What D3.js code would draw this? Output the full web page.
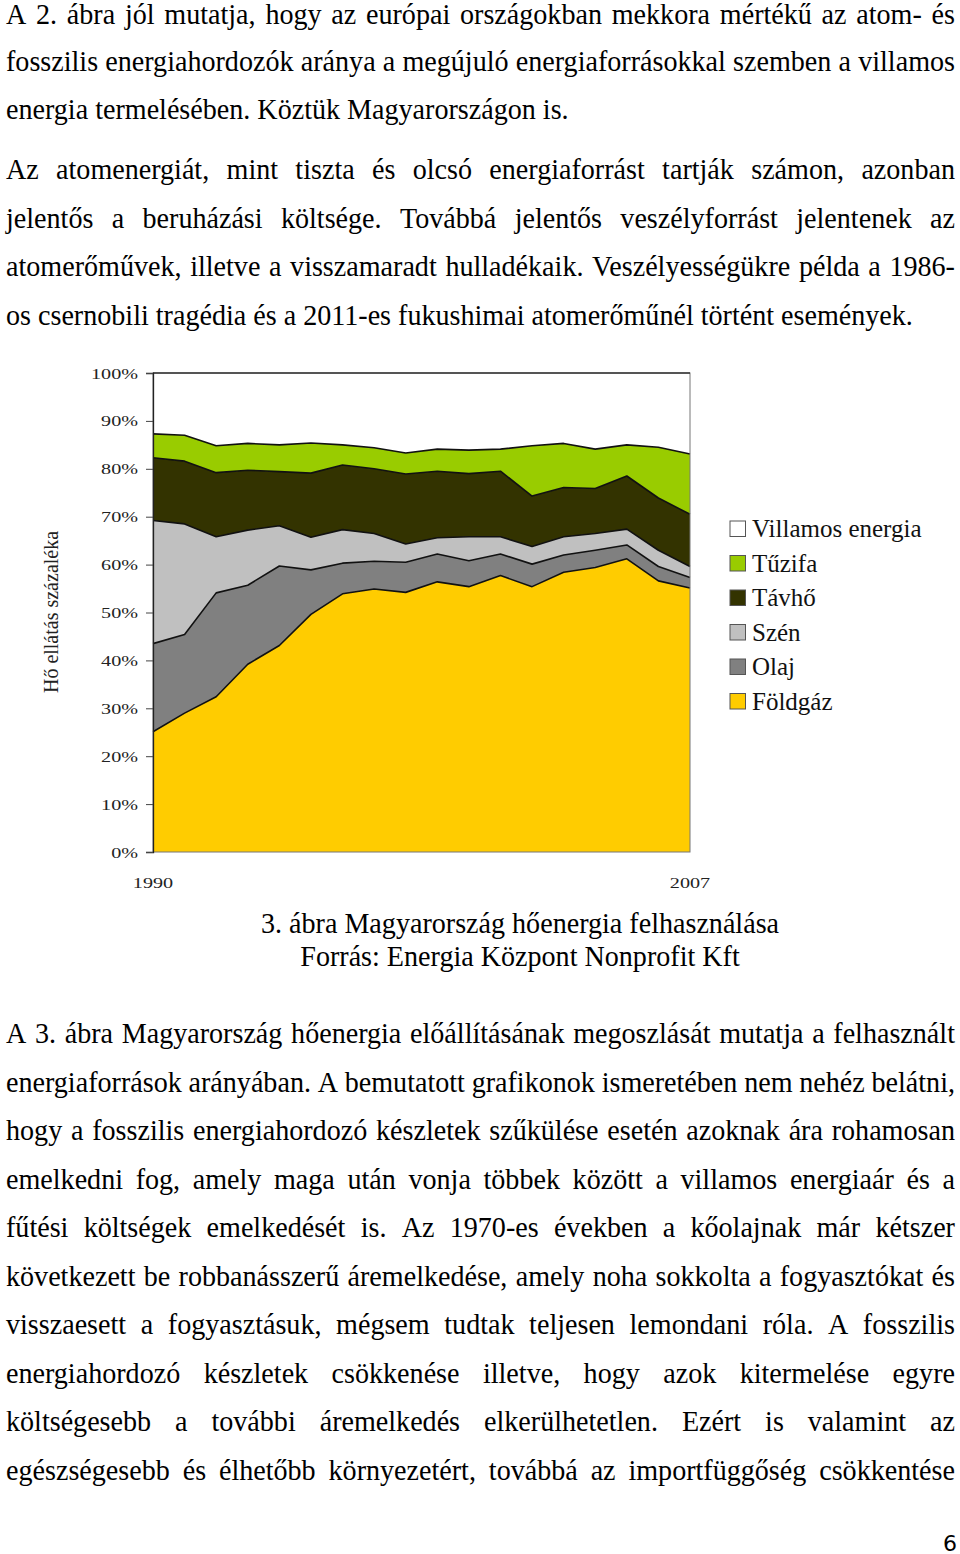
<!DOCTYPE html>
<html><head><meta charset="utf-8">
<script src="https://cdn.jsdelivr.net/npm/d3@7"></script>
<style>body{margin:0;background:#fff}svg{display:block}</style>
</head><body>
<svg id="page" width="960" height="1554"></svg>
<script>
// ---- chart data (percent shares of heat supply) ----
const years = [1990,1991,1992,1993,1994,1995,1996,1997,1998,1999,2000,2001,2002,2003,2004,2005,2006,2007];
const foldgaz  = [25.1,29.0,32.4,39.2,43.1,49.6,53.9,54.9,54.2,56.4,55.4,57.7,55.4,58.4,59.4,61.2,56.6,55.1];
const olaj     = [18.4,16.4,21.7,16.5,16.6, 9.3, 6.4, 5.8, 6.3, 5.8, 5.4, 4.5, 4.7, 3.6, 3.6, 2.9, 3.0, 2.2];
const szen     = [25.7,23.1,11.7,11.5, 8.4, 6.8, 7.0, 5.8, 3.8, 3.4, 5.0, 3.6, 3.7, 3.8, 3.5, 3.3, 3.4, 2.3];
const tavho    = [13.1,13.1,13.4,12.5,11.3,13.4,13.5,13.5,14.6,13.9,13.2,13.7,10.5,10.3, 9.4,11.1,10.9,10.9];
const tuzifa   = [ 5.0, 5.4, 5.6, 5.6, 5.6, 6.3, 4.2, 4.4, 4.4, 4.6, 4.9, 4.6,10.5, 9.2, 8.2, 6.5,10.6,12.6];
const villamos = [12.7,13.0,15.2,14.7,15.0,14.6,15.0,15.6,16.7,15.9,16.1,15.9,15.2,14.7,15.9,15.0,15.5,16.9];
const seriesNames = ["Földgáz","Olaj","Szén","Távhő","Tűzifa","Villamos energia"];
const yTickValues = [0,10,20,30,40,50,60,70,80,90,100];
const xTickLabels = [1990,2007];
const yAxisTitle = "Hő ellátás százaléka";
const captionLines = ["3. ábra Magyarország hőenergia felhasználása","Forrás: Energia Központ Nonprofit Kft"];

// ---- page text ----
const para1 = [
 ["A 2. ábra jól mutatja, hogy az európai országokban mekkora mértékű az atom- és", true],
 ["fosszilis energiahordozók aránya a megújuló energiaforrásokkal szemben a villamos", true],
 ["energia termelésében. Köztük Magyarországon is.", false]];
const para2 = [
 ["Az atomenergiát, mint tiszta és olcsó energiaforrást tartják számon, azonban", true],
 ["jelentős a beruházási költsége. Továbbá jelentős veszélyforrást jelentenek az", true],
 ["atomerőművek, illetve a visszamaradt hulladékaik. Veszélyességükre példa a 1986-", true],
 ["os csernobili tragédia és a 2011-es fukushimai atomerőműnél történt események.", false]];
const para3 = [
 ["A 3. ábra Magyarország hőenergia előállításának megoszlását mutatja a felhasznált", true],
 ["energiaforrások arányában. A bemutatott grafikonok ismeretében nem nehéz belátni,", true],
 ["hogy a fosszilis energiahordozó készletek szűkülése esetén azoknak ára rohamosan", true],
 ["emelkedni fog, amely maga után vonja többek között a villamos energiaár és a", true],
 ["fűtési költségek emelkedését is. Az 1970-es években a kőolajnak már kétszer", true],
 ["következett be robbanásszerű áremelkedése, amely noha sokkolta a fogyasztókat és", true],
 ["visszaesett a fogyasztásuk, mégsem tudtak teljesen lemondani róla. A fosszilis", true],
 ["energiahordozó készletek csökkenése illetve, hogy azok kitermelése egyre", true],
 ["költségesebb a további áremelkedés elkerülhetetlen. Ezért is valamint az", true],
 ["egészségesebb és élhetőbb környezetért, továbbá az importfüggőség csökkentése", true]];

const FONT = "'Liberation Serif','Times New Roman',Times,serif";
const seriesColors = {"Földgáz":"#FFCC00","Olaj":"#808080","Szén":"#C0C0C0","Távhő":"#333300","Tűzifa":"#99CC00","Villamos energia":"#FFFFFF"};

const svg = d3.select("#page");

// ---------- body text ----------
const BODY_SIZE = 29.5;
const meas = svg.append("text").attr("font-family",FONT).attr("font-size",BODY_SIZE).attr("x",-2000).attr("y",-100);
function measure(s){ meas.text(s); return meas.node().getComputedTextLength(); }
const sx = ((563/measure(para1[2][0])) + (907/measure(para2[3][0]))) / 2;
const LEFT = 6, WIDTH = 949;

function drawLine(str, justify, baseline){
  const g = svg.append("text").attr("font-family",FONT).attr("font-size",BODY_SIZE).attr("fill","#000")
    .attr("transform",`translate(${LEFT},${baseline}) scale(${sx},1)`);
  if(!justify){ g.text(str); return; }
  const words = str.split(" ");
  const widths = words.map(measure);
  const total = d3.sum(widths);
  const gap = (WIDTH/sx - total)/(words.length-1);
  let xpos = 0;
  words.forEach((w,i)=>{ g.append("tspan").attr("x",xpos).text(w); xpos += widths[i]+gap; });
}
function drawPara(lines, startBase, pitch){ lines.forEach((l,i)=>drawLine(l[0], l[1], startBase + i*pitch)); }
drawPara(para1, 23.5, 47.5);
drawPara(para2, 179, 48.7);
drawPara(para3, 1043, 48.5);
meas.remove();

captionLines.forEach((c,i)=>{
  svg.append("text").attr("font-family",FONT).attr("font-size",BODY_SIZE).attr("text-anchor","middle")
    .attr("transform",`translate(520,${933+i*33}) scale(${sx},1)`).text(c);
});
svg.append("text").attr("font-family","'DejaVu Sans',sans-serif").attr("font-size",22)
  .attr("text-anchor","middle").attr("x",950).attr("y",1551).text("6");

// ---------- chart ----------
const x = d3.scaleLinear().domain([1990,2007]).range([153,690]);
const y = d3.scaleLinear().domain([0,100]).range([852,373]);

const table = years.map((yr,i)=>({year:yr,"Földgáz":foldgaz[i],"Olaj":olaj[i],"Szén":szen[i],"Távhő":tavho[i],"Tűzifa":tuzifa[i],"Villamos energia":villamos[i]}));
const stacked = d3.stack().keys(seriesNames)(table);

const area = d3.area().x(d=>x(d.data.year)).y0(d=>y(d[0])).y1(d=>y(d[1]));
const line = d3.line().x(d=>x(d.data.year)).y(d=>y(d[1]));

const chart = svg.append("g");
chart.selectAll("path.area").data(stacked).join("path")
  .attr("class","area").attr("d",area).attr("fill",d=>seriesColors[d.key]).attr("stroke","none");
chart.selectAll("path.top").data(stacked.filter(s=>s.key!=="Villamos energia")).join("path")
  .attr("class","top").attr("d",line).attr("fill","none").attr("stroke","#111").attr("stroke-width",1.6)
  .attr("stroke-linejoin","round");

// frame
chart.append("rect").attr("x",x(1990)).attr("y",y(100)).attr("width",x(2007)-x(1990)).attr("height",y(0)-y(100))
  .attr("fill","none").attr("stroke","#777").attr("stroke-width",1);
chart.append("line").attr("x1",x(1990)).attr("x2",x(2007)).attr("y1",y(100)).attr("y2",y(100))
  .attr("stroke","#333").attr("stroke-width",1.3);

// y axis
const yAxis = d3.axisLeft(y).tickValues(yTickValues).tickSize(7).tickFormat("");
const ya = chart.append("g").attr("transform",`translate(${x(1990)},0)`).call(yAxis);
ya.select(".domain").attr("stroke","#222").attr("stroke-width",1.3);
ya.selectAll(".tick line").attr("stroke","#444");
chart.selectAll("text.ytl").data(yTickValues).join("text").attr("class","ytl")
  .attr("font-family",FONT).attr("font-size",15.5).attr("fill","#222").attr("text-anchor","end")
  .attr("transform",d=>`translate(138,${y(d)+5.5}) scale(1.3,1)`).text(d=>d+"%");

// x labels
chart.selectAll("text.xtl").data(xTickLabels).join("text").attr("class","xtl")
  .attr("font-family",FONT).attr("font-size",15.5).attr("fill","#222").attr("text-anchor","middle")
  .attr("transform",d=>`translate(${x(d)},888) scale(1.3,1)`).text(d=>d);

// y title
chart.append("text").attr("font-family",FONT).attr("font-size",20).attr("fill","#222")
  .attr("text-anchor","middle").attr("transform","translate(58,612) rotate(-90)").text(yAxisTitle);

// legend
const legendOrder = seriesNames.slice().reverse();
const lg = chart.append("g");
legendOrder.forEach((name,i)=>{
  const yy = 521 + i*34.5;
  lg.append("rect").attr("x",730).attr("y",yy).attr("width",15.5).attr("height",15.5)
    .attr("fill",seriesColors[name]).attr("stroke","#555").attr("stroke-width",1);
  lg.append("text").attr("x",752).attr("y",yy+16).attr("font-family",FONT).attr("font-size",25)
    .attr("fill","#111").text(name);
});
</script>
</body></html>
